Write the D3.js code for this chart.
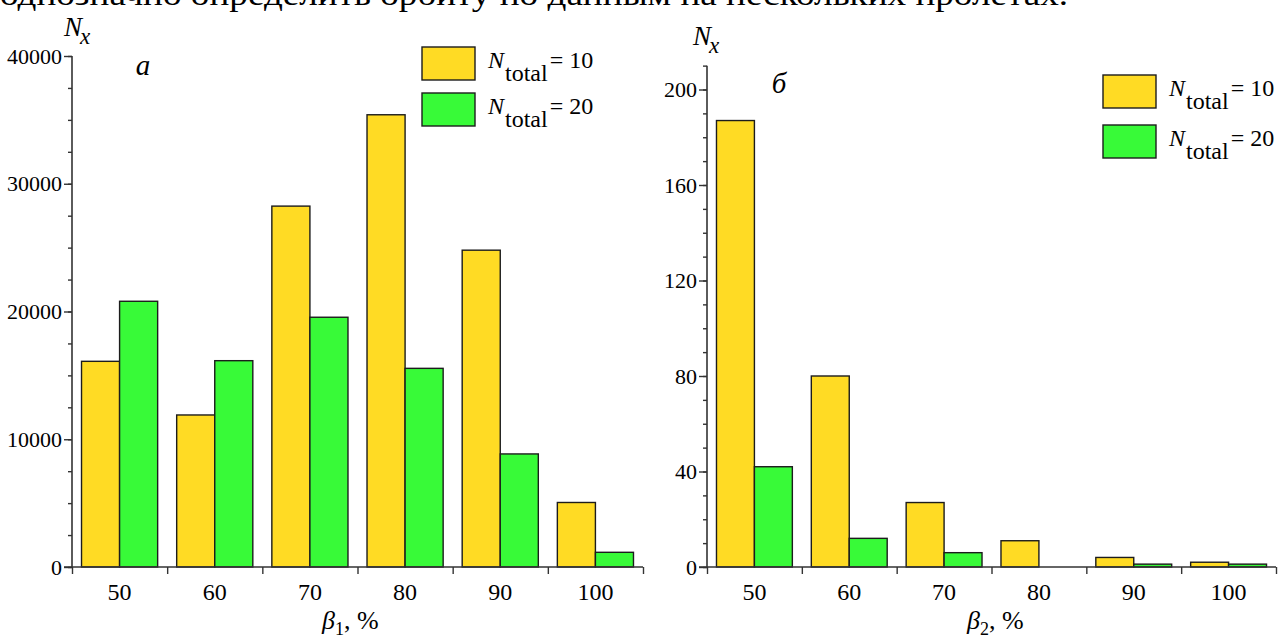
<!DOCTYPE html>
<html><head><meta charset="utf-8">
<script src="https://cdn.jsdelivr.net/npm/d3@7"></script>
<style>
html,body{margin:0;padding:0;background:#fff;overflow:hidden}
</style></head>
<body>
<svg id="c" width="1279" height="639"></svg>
<script>
// ---- data ----
const categories = [50, 60, 70, 80, 90, 100];
const seriesNames = ["10", "20"];           // N_total values
const leftN10  = [16100, 11900, 28250, 35400, 24800, 5050];
const leftN20  = [20800, 16150, 19550, 15550, 8850, 1150];
const rightN10 = [187, 80, 27, 11, 4, 2];
const rightN20 = [42, 12, 6, 0, 1.2, 1.2];
const leftYTicks  = [0, 10000, 20000, 30000, 40000];
const rightYTicks = [0, 40, 80, 120, 160, 200];
const xBinEdges   = [45, 55, 65, 75, 85, 95, 105];
const colors = ["#FFDB24", "#38FA38"];
const headerText = "однозначно определить орбиту по данным на нескольких пролетах.";

const FONT = "'Liberation Serif'";
const svg = d3.select("#c");

// header line cut at top
svg.append("text").attr("x", 0).attr("y", 5).style("font-family", FONT)
  .attr("font-size", 32).attr("textLength", 1068).attr("lengthAdjust", "spacingAndGlyphs")
  .text(headerText);

function panel(o) {
  const x = d3.scaleLinear().domain([45, 105]).range(o.xr);
  const y = d3.scaleLinear().domain([0, o.ymax]).range(o.yr);
  const g = svg.append("g");
  const stroke = "#1c1c1c";

  // bars
  const series = [o.s10, o.s20];
  series.forEach((vals, si) => {
    g.selectAll(null).data(categories.map((c, i) => ({c, v: vals[i]})).filter(d => d.v > 0))
      .enter().append("rect")
      .attr("x", d => x(si === 0 ? d.c - 4 : d.c))
      .attr("width", d => x(d.c + 4) - x(d.c))
      .attr("y", d => y(d.v))
      .attr("height", d => y(0) - y(d.v))
      .attr("fill", colors[si]).attr("stroke", stroke).attr("stroke-width", 1.4);
  });

  // y axis
  const yAxis = d3.axisLeft(y).tickValues(o.minor).tickSize(4).tickFormat("");
  const ga = g.append("g").attr("transform", `translate(${o.xr[0]},0)`).call(yAxis);
  ga.select(".domain").remove();
  ga.selectAll("line").attr("stroke", "#333").attr("stroke-width", 1.4);
  const yAxisMaj = d3.axisLeft(y).tickValues(o.yTicks).tickSize(8).tickPadding(2).tickFormat(d3.format("d"));
  const gm = g.append("g").attr("transform", `translate(${o.xr[0]},0)`).call(yAxisMaj);
  gm.select(".domain").remove();
  gm.selectAll("line").attr("stroke", "#333").attr("stroke-width", 1.4);
  gm.attr("font-family", null);
  gm.selectAll("text").attr("font-size", 22).style("font-family", FONT).attr("fill", "#000");
  g.append("line").attr("x1", o.xr[0]).attr("x2", o.xr[0]).attr("y1", y(0)).attr("y2", y(o.ymax))
    .attr("stroke", "#333").attr("stroke-width", 1.6);

  // x axis
  const xAxis = d3.axisBottom(x).tickValues(xBinEdges).tickSize(7).tickFormat("");
  const gx = g.append("g").attr("transform", `translate(0,${y(0)})`).call(xAxis);
  gx.select(".domain").remove();
  gx.selectAll("line").attr("stroke", "#333").attr("stroke-width", 1.4);
  g.append("line").attr("x1", o.xr[0] - 8).attr("x2", o.xr[1]).attr("y1", y(0)).attr("y2", y(0))
    .attr("stroke", "#333").attr("stroke-width", 1.6);
  g.selectAll(null).data(categories).enter().append("text")
    .attr("x", d => x(d)).attr("y", y(0) + 33).attr("text-anchor", "middle").style("font-family", FONT)
    .attr("font-size", 24).text(d => d);

  // x title
  const t = g.append("text").attr("x", o.xTitleX).attr("y", 629).attr("font-size", 26).style("font-family", FONT);
  t.append("tspan").attr("font-style", "italic").text("β");
  t.append("tspan").attr("font-size", 18).attr("dy", 6).text(o.sub);
  t.append("tspan").attr("dy", -6).text(", %");

  // y title N_x
  const yt = g.append("text").attr("x", o.nx[0]).attr("y", o.nx[1]).attr("font-size", 27)
    .attr("font-style", "italic").style("font-family", FONT);
  yt.append("tspan").text("N");
  yt.append("tspan").attr("font-size", 23).attr("dy", 8).attr("dx", -2).text("x");

  // panel letter
  g.append("text").attr("x", o.letter[0]).attr("y", o.letter[1]).attr("font-size", 29).style("font-family", FONT)
    .attr("font-style", "italic").attr("text-anchor", "middle").text(o.letter[2]);

  // legend
  seriesNames.forEach((n, i) => {
    const by = o.leg[1] + i * o.leg[2];
    g.append("rect").attr("x", o.leg[0]).attr("y", by).attr("width", 53).attr("height", 33)
      .attr("fill", colors[i]).attr("stroke", stroke).attr("stroke-width", 1.4);
    const lt = g.append("text").attr("x", o.leg[0] + 66).attr("y", by + 21).attr("font-size", 24).style("font-family", FONT);
    lt.append("tspan").attr("font-style", "italic").text("N");
    lt.append("tspan").attr("dy", 13).attr("dx", 1).text("total");
    lt.append("tspan").attr("dy", -13).attr("dx", 2).text("= " + n);
  });
}

panel({xr: [72, 643], yr: [567, 56], ymax: 40000, s10: leftN10, s20: leftN20,
  yTicks: leftYTicks, minor: d3.range(0, 40001, 2500), sub: "1", xTitleX: 322,
  nx: [64, 36], letter: [143, 75, "а"], leg: [422, 47, 46]});
panel({xr: [707, 1276], yr: [567, 567 - 210 * 2.3875], ymax: 210, s10: rightN10, s20: rightN20,
  yTicks: rightYTicks, minor: d3.range(0, 211, 10), sub: "2", xTitleX: 967,
  nx: [693, 45], letter: [779, 93, "б"], leg: [1103, 75, 50]});
</script>
</body></html>
